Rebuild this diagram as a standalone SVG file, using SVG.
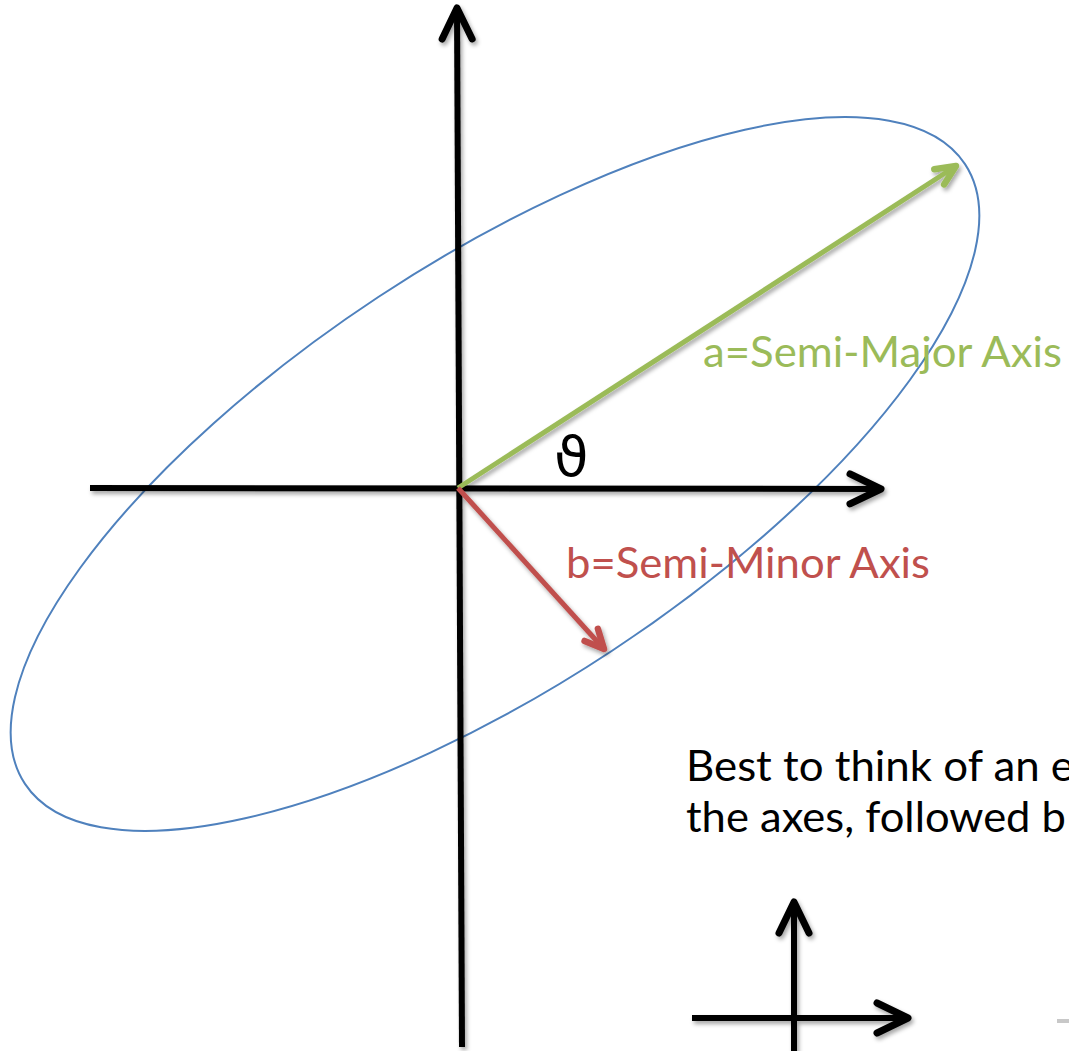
<svg xmlns="http://www.w3.org/2000/svg" width="1069" height="1051" viewBox="0 0 1069 1051">
  <style>
    .axis { stroke: #000; stroke-width: 6; fill: none; }
    .lbl { font-family: Lato, "Liberation Sans", sans-serif; font-size: 42px; }
  </style>
  <defs>
    <filter id="shadow" x="-10%" y="-10%" width="120%" height="120%">
      <feDropShadow dx="2" dy="3" stdDeviation="2" flood-color="#000" flood-opacity="0.35"/>
    </filter>
    <marker id="headBlack" markerUnits="userSpaceOnUse" orient="auto" refX="0" refY="0" markerWidth="50" markerHeight="50" viewBox="-40 -25 50 50" overflow="visible">
      <path d="M-31,-15 L0,0 L-31,15" fill="none" stroke="#000" stroke-width="7" stroke-linecap="round" stroke-linejoin="round"/>
    </marker>
    <marker id="headGreen" markerUnits="userSpaceOnUse" orient="auto" refX="0" refY="0" markerWidth="40" markerHeight="40" viewBox="-30 -20 40 40" overflow="visible">
      <path d="M-20,-9 L0,0 L-20,9" fill="none" stroke="#9BBB59" stroke-width="6.5" stroke-linecap="round" stroke-linejoin="round"/>
    </marker>
    <marker id="headRed" markerUnits="userSpaceOnUse" orient="auto" refX="0" refY="0" markerWidth="40" markerHeight="40" viewBox="-30 -20 40 40" overflow="visible">
      <path d="M-19,-9 L0,0 L-19,9" fill="none" stroke="#C0504D" stroke-width="6.5" stroke-linecap="round" stroke-linejoin="round"/>
    </marker>
  </defs>

  <rect width="1069" height="1051" fill="#fff"/>

  <g id="ellipse">
    <ellipse cx="495" cy="474" rx="563" ry="212" transform="rotate(-33.4 495 474)" fill="none" stroke="#4F81BD" stroke-width="2"/>
  </g>

  <g id="connectors" filter="url(#shadow)">
    <line id="y-axis" class="axis" x1="462" y1="1047" x2="457" y2="8" marker-end="url(#headBlack)"/>
    <line id="x-axis" class="axis" x1="90" y1="488" x2="881" y2="489" marker-end="url(#headBlack)"/>
    <line id="semi-major" x1="458" y1="488" x2="956" y2="166" stroke="#9BBB59" stroke-width="5" marker-end="url(#headGreen)"/>
    <line id="semi-minor" x1="458" y1="488" x2="604" y2="649" stroke="#C0504D" stroke-width="5" marker-end="url(#headRed)"/>
    <line id="small-y-axis" class="axis" x1="794" y1="1055" x2="794" y2="902" marker-end="url(#headBlack)"/>
    <line id="small-x-axis" class="axis" x1="692" y1="1018" x2="908" y2="1018" marker-end="url(#headBlack)"/>
  </g>

  <g id="fragment">
    <rect x="1057" y="1019" width="12" height="4" fill="#c8c8c8"/>
  </g>

  <g id="labels">
    <text id="label-a" class="lbl" x="703" y="367" fill="#9BBB59" textLength="359" lengthAdjust="spacingAndGlyphs">a=Semi-Major Axis</text>
    <text id="label-b" class="lbl" x="566" y="578" fill="#C0504D" textLength="364" lengthAdjust="spacingAndGlyphs">b=Semi-Minor Axis</text>
    <text id="theta" x="554" y="476" font-family="'DejaVu Sans', sans-serif" font-size="56px" fill="#000">ϑ</text>
    <text id="note1" class="lbl" x="686" y="781" fill="#000" textLength="388" lengthAdjust="spacingAndGlyphs">Best to think of an e</text>
    <text id="note2" class="lbl" x="686" y="832" fill="#000" textLength="380" lengthAdjust="spacingAndGlyphs">the axes, followed b</text>
  </g>
</svg>
